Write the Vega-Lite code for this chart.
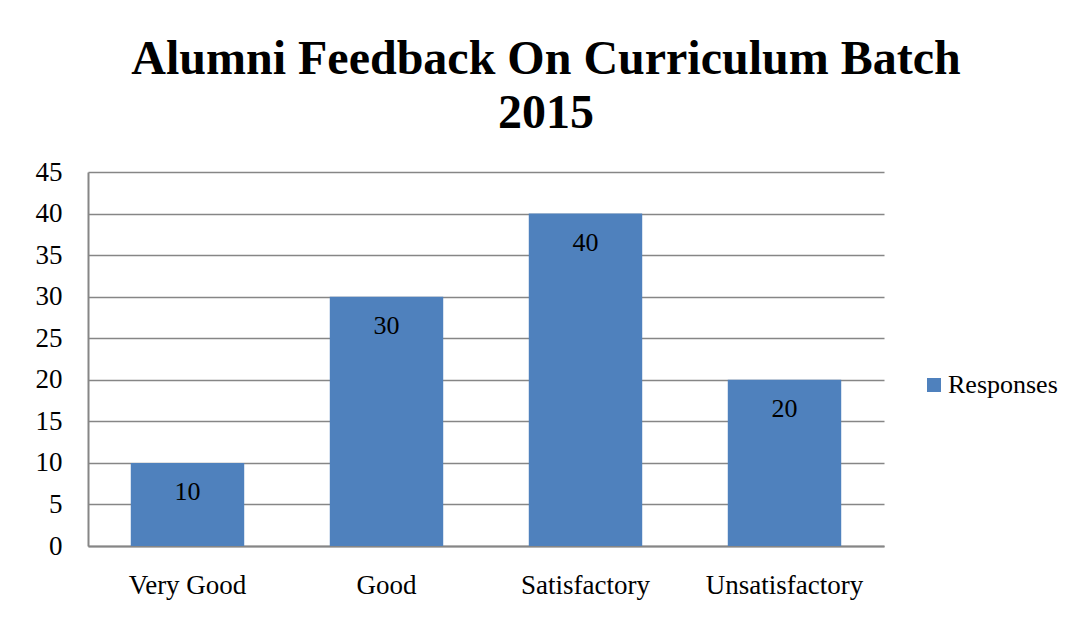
{
  "$schema": "https://vega.github.io/schema/vega-lite/v6.json",
  "autosize": "none",
  "width": 796,
  "height": 374,
  "padding": {"left": 88, "top": 172, "right": 188, "bottom": 79},
  "background": "white",
  "title": {
    "text": ["Alumni Feedback On Curriculum Batch", "2015"],
    "font": "Liberation Serif",
    "fontSize": 48,
    "fontWeight": "bold",
    "lineHeight": 54,
    "color": "black",
    "anchor": "middle",
    "dx": 60,
    "offset": 20
  },
  "data": {
    "values": [
      {"category": "Very Good", "value": 10, "series": "Responses"},
      {"category": "Good", "value": 30, "series": "Responses"},
      {"category": "Satisfactory", "value": 40, "series": "Responses"},
      {"category": "Unsatisfactory", "value": 20, "series": "Responses"}
    ]
  },
  "encoding": {
    "x": {
      "field": "category",
      "type": "nominal",
      "sort": null,
      "scale": {"paddingInner": 0.43, "paddingOuter": 0.215},
      "axis": {
        "title": null,
        "labelAngle": 0,
        "labelFont": "Liberation Serif",
        "labelFontSize": 27,
        "labelColor": "black",
        "labelPadding": 26,
        "ticks": false,
        "domainColor": "#868686",
        "domainWidth": 2
      }
    },
    "y": {
      "field": "value",
      "type": "quantitative",
      "scale": {"domain": [0, 45]},
      "axis": {
        "title": null,
        "values": [0, 5, 10, 15, 20, 25, 30, 35, 40, 45],
        "labelFont": "Liberation Serif",
        "labelFontSize": 27,
        "labelColor": "black",
        "labelPadding": 26,
        "ticks": false,
        "domainColor": "#868686",
        "domainWidth": 2,
        "gridColor": "#868686",
        "gridWidth": 1.5
      }
    }
  },
  "layer": [
    {
      "mark": {"type": "bar"},
      "encoding": {
        "color": {
          "field": "series",
          "type": "nominal",
          "scale": {"range": ["#4F81BD"]},
          "legend": {
            "title": null,
            "orient": "none",
            "legendX": 833,
            "legendY": 200,
            "symbolType": "square",
            "symbolSize": 196,
            "symbolStrokeWidth": 0,
            "labelFont": "Liberation Serif",
            "labelFontSize": 26,
            "labelColor": "black",
            "labelOffset": 1
          }
        }
      }
    },
    {
      "mark": {
        "type": "text",
        "baseline": "middle",
        "dy": 29,
        "font": "Liberation Serif",
        "fontSize": 26,
        "color": "black"
      },
      "encoding": {"text": {"field": "value", "type": "quantitative"}}
    }
  ],
  "config": {"view": {"stroke": null}}
}
